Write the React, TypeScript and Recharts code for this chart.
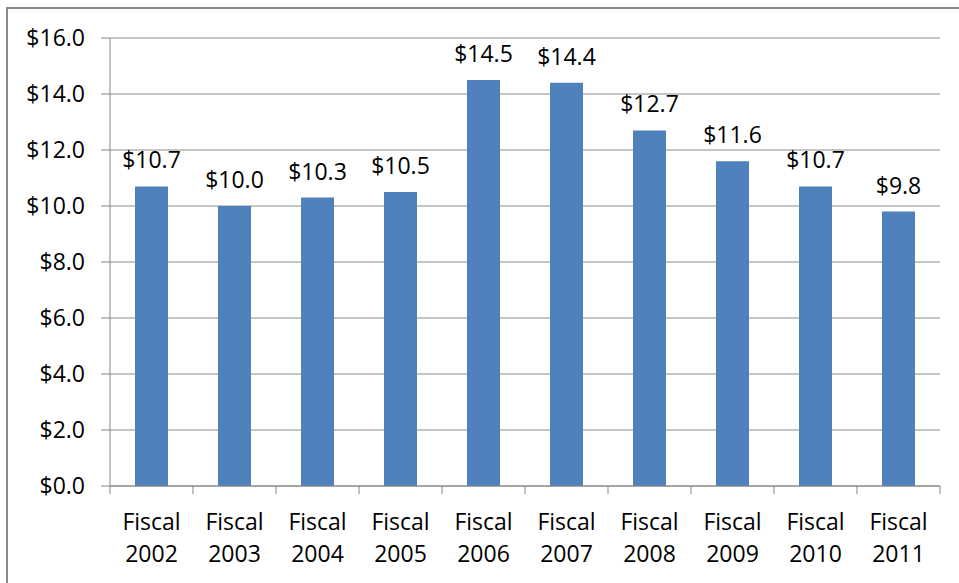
import React from "react";
import { BarChart, Bar, XAxis, YAxis, CartesianGrid, LabelList } from "recharts";

const years = ["2002", "2003", "2004", "2005", "2006", "2007", "2008", "2009", "2010", "2011"];
const amounts = [10.7, 10.0, 10.3, 10.5, 14.5, 14.4, 12.7, 11.6, 10.7, 9.8];
const yTicks = [0, 2, 4, 6, 8, 10, 12, 14, 16];

const data = years.map((y, i) => ({ name: "Fiscal " + y, year: y, value: amounts[i] }));

const W = 959;
const H = 583;
const LEFT = 110;
const RIGHT = 19;
const TOP = 38;
const XH = 97;
const FONT = "'Open Sans', 'Noto Sans', sans-serif";
const band = (W - LEFT - RIGHT) / years.length;

const money = (v: number) => "$" + Number(v).toFixed(1);

const XTick = (props: any) => {
    const { x, y, payload, index } = props;
    const half = band / 2;
    return (
        <g>
            <line x1={x - half} x2={x - half} y1={y} y2={y + 8} stroke="#868686" />
            {index === years.length - 1 && (
                <line x1={x + half} x2={x + half} y1={y} y2={y + 8} stroke="#868686" />
            )}
            <text x={x} y={y + 44} textAnchor="middle" fontSize={23} fill="#000" fontFamily={FONT}>
                Fiscal
            </text>
            <text x={x} y={y + 76} textAnchor="middle" fontSize={23} fill="#000" fontFamily={FONT}>
                {years[payload.index ?? index]}
            </text>
        </g>
    );
};

export default function App() {
    return (
        <div style={{ position: "absolute", left: 0, top: 0, width: W, height: H, overflow: "hidden", background: "#fff" }}>
            <div
                style={{
                    position: "absolute",
                    left: 6,
                    top: 7,
                    width: 980,
                    height: 620,
                    border: "2px solid #8a8a8a",
                }}
            />
            <div style={{ position: "absolute", left: 0, top: 0 }}>
                <BarChart
                    width={W}
                    height={H}
                    data={data}
                    margin={{ top: TOP, right: RIGHT, bottom: 0, left: 0 }}
                    barSize={33}
                >
                    <CartesianGrid vertical={false} stroke="#8c8c8c" />
                    <XAxis
                        dataKey="name"
                        height={XH}
                        interval={0}
                        tickLine={false}
                        tickSize={0}
                        tickMargin={0}
                        stroke="#868686"
                        tick={<XTick />}
                    />
                    <YAxis
                        width={LEFT}
                        domain={[0, 16]}
                        ticks={yTicks}
                        tickFormatter={money}
                        tickSize={9}
                        tickMargin={16}
                        stroke="#868686"
                        tick={{ fill: "#000", fontSize: 23, fontFamily: FONT }}
                    />
                    <Bar dataKey="value" fill="#4f81bd" isAnimationActive={false}>
                        <LabelList
                            dataKey="value"
                            position="top"
                            offset={18}
                            formatter={money}
                            fill="#000"
                            fontSize={23}
                            fontFamily={FONT}
                        />
                    </Bar>
                </BarChart>
            </div>
        </div>
    );
}
